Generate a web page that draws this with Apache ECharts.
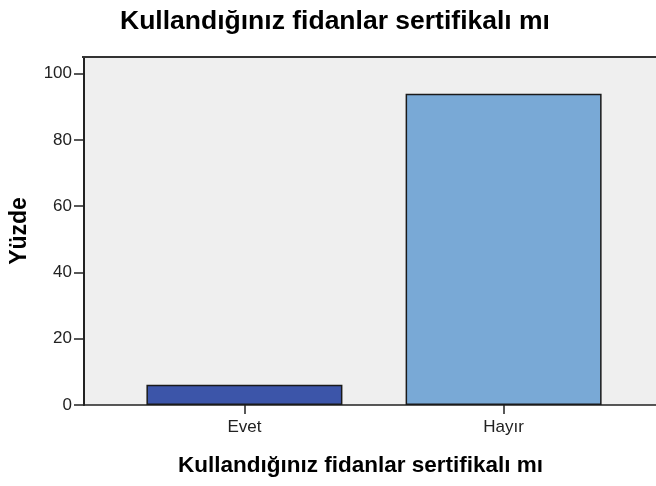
<!DOCTYPE html>
<html>
<head>
<meta charset="utf-8">
<script src="https://cdn.jsdelivr.net/npm/echarts@6/dist/echarts.min.js"></script>
<style>
  html, body { margin: 0; padding: 0; background: #fff; }
  #chart { width: 656px; height: 486px; }
</style>
</head>
<body>
<div id="chart"></div>
<script>
// kategoriler ve yüzdeler
var categories = ['Evet', 'Hayır'];
var percents = [6.1, 93.9];
var barColors = ['#3c55a9', '#79a9d6'];
var yTicks = [0, 20, 40, 60, 80, 100];

var chart = echarts.init(document.getElementById('chart'));

// x ekseni değer ekseni: kategori 1, 2 konumlarında
var barData = [];
for (var i = 0; i < categories.length; i++) {
    barData.push({
        value: [i + 1, percents[i]],
        itemStyle: { color: barColors[i] }
    });
}

var fontFam = 'Liberation Sans, Arial, sans-serif';

var option = {
    backgroundColor: '#ffffff',
    animation: false,
    title: {
        text: 'Kullandığınız fidanlar sertifikalı mı',
        left: 330,
        top: 3,
        textAlign: 'center',
        textStyle: { fontFamily: fontFam, fontSize: 26.5, fontWeight: 'bold', color: '#000' }
    },
    grid: {
        left: 82,
        top: 57,
        right: 0,
        bottom: 81,
        show: true,
        backgroundColor: '#efefef',
        borderWidth: 0
    },
    xAxis: {
        type: 'value',
        min: 0.381,
        max: 2.588,
        splitLine: { show: false },
        axisLine: { show: true, onZero: false, lineStyle: { color: '#222', width: 1.5 } },
        axisTick: { show: true, length: 9, customValues: [1, 2], lineStyle: { color: '#222', width: 1.5 } },
        axisLabel: {
            customValues: [1, 2],
            margin: 14,
            fontFamily: fontFam,
            fontSize: 17,
            color: '#222',
            formatter: function (v) { return categories[Math.round(v) - 1] || ''; }
        },
        name: 'Kullandığınız fidanlar sertifikalı mı',
        nameLocation: 'middle',
        nameGap: 49,
        nameTextStyle: { fontFamily: fontFam, fontSize: 22.5, fontWeight: 'bold', color: '#000', padding: [0, 19, 0, 0] }
    },
    yAxis: {
        type: 'value',
        min: 0,
        max: 105,
        interval: 20,
        splitLine: { show: false },
        axisLine: { show: true, lineStyle: { color: '#222', width: 2 } },
        axisTick: { show: true, length: 10, customValues: yTicks, lineStyle: { color: '#222', width: 1.5 } },
        axisLabel: {
            customValues: yTicks,
            margin: 12,
            fontFamily: fontFam,
            fontSize: 17,
            color: '#222'
        },
        name: 'Yüzde',
        nameLocation: 'middle',
        nameRotate: 90,
        nameGap: 53,
        nameTextStyle: { fontFamily: fontFam, fontSize: 23, fontWeight: 'bold', color: '#000' }
    },
    graphic: [{
        // üst kenar çizgisi
        type: 'line',
        shape: { x1: 82, y1: 57, x2: 656, y2: 57 },
        style: { stroke: '#333', lineWidth: 2 },
        z: 10
    }],
    series: [{
        type: 'bar',
        data: barData,
        barWidth: 196,
        itemStyle: { borderColor: '#1a1a1a', borderWidth: 1.5 }
    }]
};

chart.setOption(option);
</script>
</body>
</html>
